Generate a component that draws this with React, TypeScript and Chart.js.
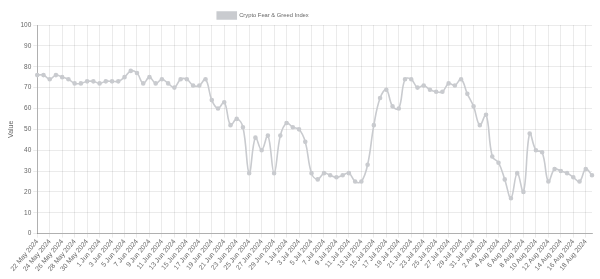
import React, { useEffect, useRef } from "react";
import { Chart, registerables } from "chart.js";

Chart.register(...registerables);

const MONTHS = ["May", "Jun", "Jul", "Aug"];
const MONTH_DAYS = [
  [22, 31],
  [1, 30],
  [1, 31],
  [1, 19],
];

const categories: string[] = [];
MONTHS.forEach((m, mi) => {
  for (let d = MONTH_DAYS[mi][0]; d <= MONTH_DAYS[mi][1]; d++) {
    categories.push(`${d} ${m} 2024`);
  }
});

const fearGreedValues = [
  76, 76, 74, 76, 75, 74, 72, 72, 73, 73, 72, 73, 73, 73, 75, 78, 77, 72, 75, 72, 74, 72, 70,
  74, 74, 71, 71, 74, 64, 60, 63, 52, 55, 51, 29, 46, 40, 47, 29, 47, 53, 51, 50, 44, 29, 26,
  29, 28, 27, 28, 29, 25, 25, 33, 52, 65, 69, 61, 60, 74, 74, 70, 71, 69, 68, 68, 72, 71, 74, 67,
  61, 52, 57, 37, 34, 26, 17, 29, 20, 48, 40, 39, 25, 31, 30, 29, 27, 25, 31, 28,
];

const seriesLabel = "Crypto Fear & Greed Index";
const yTitle = "Value";
const FONT = "Liberation Sans, Arial, sans-serif";

const legendShift = {
  id: "legendShift",
  afterLayout(chart: any) {
    const lg = chart.legend;
    if (!lg) return;
    lg.left -= 35;
    lg.right -= 35;
    lg.top += 4;
    lg.bottom += 4;
  },
};

export default function App() {
  const ref = useRef<HTMLCanvasElement | null>(null);

  useEffect(() => {
    document.body.style.margin = "0";
    const canvas = ref.current;
    if (!canvas) return;
    const grey = "rgb(201,203,207)";
    const chart = new Chart(canvas, {
      type: "line",
      data: {
        labels: categories,
        datasets: [
          {
            label: seriesLabel,
            data: fearGreedValues,
            borderColor: grey,
            backgroundColor: grey,
            borderWidth: 1.6,
            pointRadius: 1.5,
            pointBackgroundColor: grey,
            pointBorderColor: grey,
            tension: 0.4,
            fill: false,
          },
        ],
      },
      options: {
        responsive: false,
        animation: false,
        devicePixelRatio: 1,
        layout: { padding: { left: 4, right: 8, top: 5, bottom: 6 } },
        plugins: {
          legend: {
            position: "top",
            labels: {
              boxWidth: 19,
              boxHeight: 7,
              padding: 3,
              color: "#666",
              font: { family: FONT, size: 5.8 },
            },
          },
          tooltip: { enabled: false },
        },
        scales: {
          x: {
            grid: { color: "rgba(0,0,0,0.08)", tickLength: 4 },
            border: { color: "rgba(0,0,0,0.25)" },
            ticks: {
              autoSkip: false,
              minRotation: 50,
              maxRotation: 50,
              padding: 0,
              color: "#666",
              font: { family: FONT, size: 6.8 },
              callback: (_v: any, idx: number) => (idx % 2 === 0 ? categories[idx] : null),
            },
          },
          y: {
            min: 0,
            max: 100,
            grid: { color: "rgba(0,0,0,0.08)", tickLength: 4 },
            border: { color: "rgba(0,0,0,0.25)" },
            ticks: {
              stepSize: 10,
              padding: 2,
              color: "#666",
              font: { family: FONT, size: 6.5 },
            },
            title: {
              display: true,
              text: yTitle,
              color: "#666",
              padding: 3,
              font: { family: FONT, size: 7 },
            },
          },
        },
      },
      plugins: [legendShift],
    });
    return () => chart.destroy();
  }, []);

  return (
    <div style={{ width: 600, height: 279 }}>
      <canvas ref={ref} width={600} height={279} style={{ display: "block" }} />
    </div>
  );
}
